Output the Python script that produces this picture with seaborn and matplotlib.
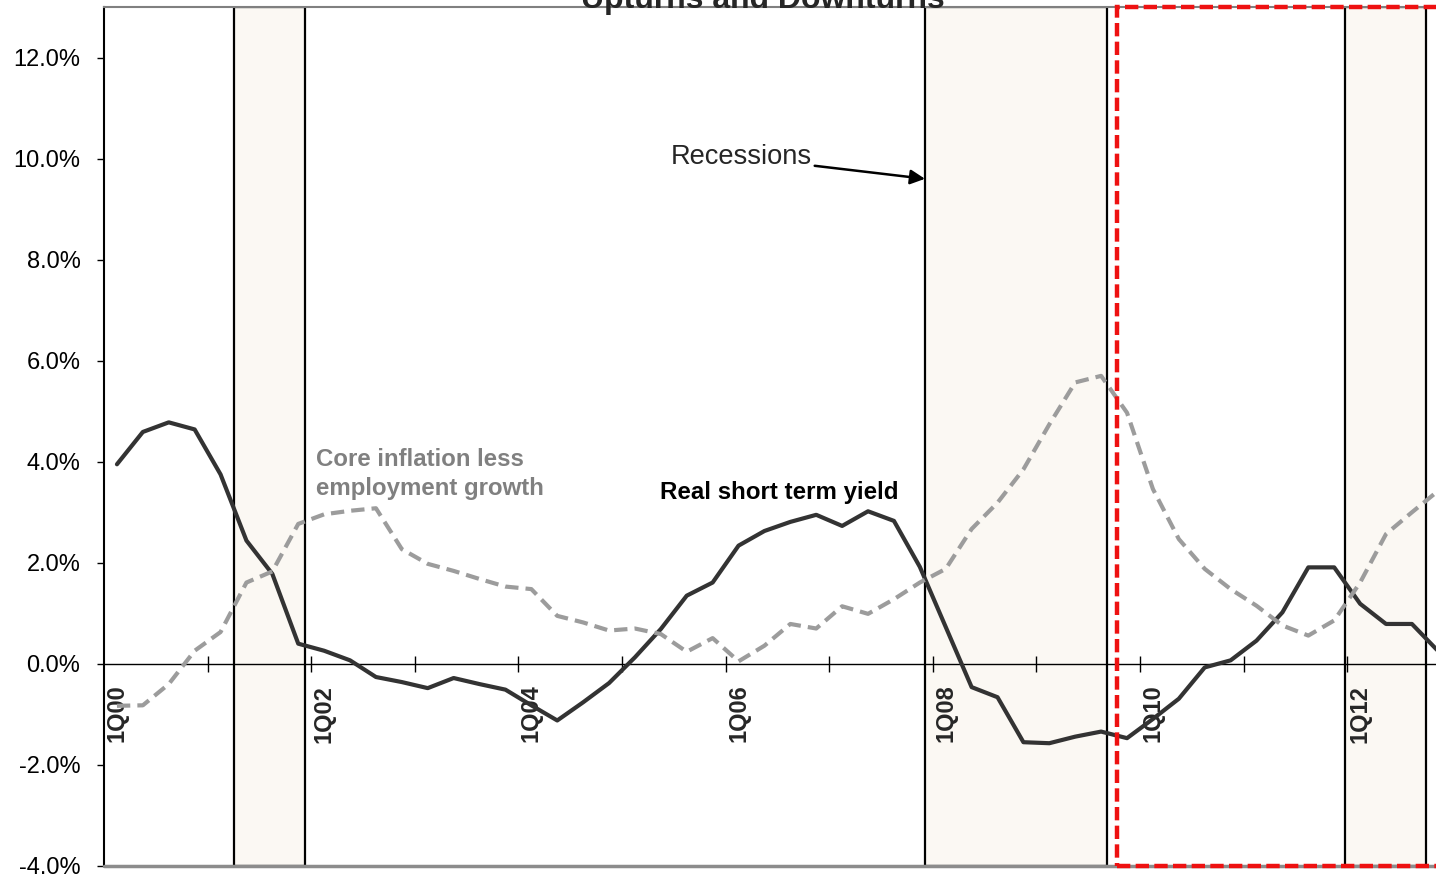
import numpy as np
import pandas as pd
import seaborn as sns
import matplotlib.pyplot as plt
from matplotlib.patches import Rectangle

# Quarterly series, 1Q00 .. 4Q12 (percent)
real_short_term_yield = [
    3.95, 4.59, 4.78, 4.64, 3.75, 2.44, 1.78, 0.40,
    0.26, 0.07, -0.26, -0.36, -0.48, -0.28, -0.40, -0.51,
    -0.82, -1.12, -0.76, -0.38, 0.13, 0.69, 1.35, 1.61,
    2.34, 2.63, 2.81, 2.95, 2.73, 3.02, 2.83, 1.92,
    0.73, -0.46, -0.66, -1.55, -1.57, -1.44, -1.34, -1.47,
    -1.09, -0.69, -0.07, 0.07, 0.46, 1.02, 1.91, 1.91,
    1.19, 0.79, 0.79, 0.26,
]
core_inflation_less_employment = [
    -0.83, -0.82, -0.40, 0.26, 0.63, 1.61, 1.83, 2.77,
    2.96, 3.03, 3.08, 2.27, 1.98, 1.84, 1.68, 1.53,
    1.48, 0.95, 0.82, 0.66, 0.70, 0.59, 0.24, 0.51,
    0.05, 0.36, 0.79, 0.70, 1.14, 0.99, 1.28, 1.61,
    1.88, 2.67, 3.19, 3.85, 4.74, 5.57, 5.70, 4.97,
    3.46, 2.47, 1.88, 1.48, 1.15, 0.76, 0.56, 0.86,
    1.61, 2.57, 3.00, 3.42,
]
quarters = [f"{q}Q{yy:02d}" for yy in range(0, 13) for q in range(1, 5)]
tick_labels = ["1Q00", "1Q02", "1Q04", "1Q06", "1Q08", "1Q10", "1Q12"]

# Recession periods, in quarter-index units
recessions = [(4.52, 7.26), (31.2, 38.23), (47.4, 50.54)]
# Start of the highlighted recent window (quarter-index units)
highlight_start = 38.6

n = len(real_short_term_yield)
qidx = np.arange(n)
df = pd.DataFrame({
    "q": np.concatenate([qidx, qidx]),
    "quarter": quarters[:n] * 2,
    "value": real_short_term_yield + core_inflation_less_employment,
    "series": ["Real short term yield"] * n + ["Core inflation less employment growth"] * n,
})

sns.set_style("white")
plt.rcParams["font.family"] = ["Liberation Sans", "DejaVu Sans"]

fig = plt.figure(figsize=(14.36, 8.75), dpi=100)
ax = fig.add_axes([104 / 1436, 9 / 875, 1339 / 1436, 859 / 875])
ax.set_axisbelow(False)

# Recession shading
for a, b in recessions:
    ax.axvspan(a, b, facecolor="#FBF8F3", edgecolor="black", lw=1.6, zorder=1)

sns.lineplot(
    data=df, x="q", y="value", hue="series", style="series",
    palette={"Real short term yield": "#333333",
             "Core inflation less employment growth": "#9c9c9c"},
    dashes={"Real short term yield": "",
            "Core inflation less employment growth": (3.2, 1.7)},
    linewidth=3, legend=False, ax=ax, zorder=4,
)

# Highlighted recent window
ax.add_patch(Rectangle((highlight_start, -4), 30, 17, fill=False,
                       edgecolor="#ee1111", lw=3.2, linestyle=(0, (3, 1.2)),
                       clip_on=False, zorder=6))

# Spines
ax.spines["right"].set_visible(False)
ax.spines["left"].set_color("black")
ax.spines["left"].set_linewidth(1.5)
ax.spines["top"].set_color("#808080")
ax.spines["top"].set_linewidth(1.5)
ax.spines["bottom"].set_position(("data", 0))
ax.spines["bottom"].set_color("black")
ax.spines["bottom"].set_linewidth(1.0)
ax.axhline(-4, color="#8c8c8c", lw=2.5, clip_on=False, zorder=5)

# Y axis
yt = list(range(-4, 13, 2))
ax.set_yticks(yt)
ax.set_yticklabels([f"{v:.1f}%" for v in yt])
ax.tick_params(axis="y", direction="out", length=5, width=1, pad=12,
               labelsize=17, colors="black", left=True)

# X axis: tick marks between years, labels every second year
ax.set_xticks(np.arange(3.5, 52, 4))
ax.set_xticklabels([])
label_pos = [quarters.index(t) for t in tick_labels]
ax.set_xticks(label_pos, minor=True)
ax.set_xticklabels(tick_labels, minor=True, rotation=90, fontweight="bold",
                   fontsize=17)
ax.tick_params(axis="x", which="major", direction="inout", length=11,
               width=1, colors="black", bottom=True)
ax.tick_params(axis="x", which="minor", length=0, pad=15, bottom=True)
ax.set_xlabel("")
ax.set_ylabel("")

# Limits are set after the ticks so they are not widened
ax.set_xlim(-0.5, 51.2)
ax.set_ylim(-4, 13)

# Annotations
ax.text(7.69, 3.76, "Core inflation less\nemployment growth", color="#808080",
        fontsize=17.3, fontweight="bold", ha="left", va="center",
        linespacing=1.3, zorder=7)
ax.text(25.58, 3.40, "Real short term yield", color="black", fontsize=17.4,
        fontweight="bold", ha="center", va="center", zorder=7)
ax.annotate("Recessions", xy=(31.2, 9.6), xytext=(24.09, 10.03),
            ha="center", va="center", fontsize=19.6, zorder=7,
            arrowprops=dict(arrowstyle="-|>", color="black", lw=1.8,
                            mutation_scale=22, shrinkA=0, shrinkB=0))

fig.text(0.531, 1 - 8 / 875, "Upturns and Downturns", ha="center",
         va="baseline", fontsize=23, fontweight="bold")

fig.savefig("out.png", dpi=100, facecolor="white")
